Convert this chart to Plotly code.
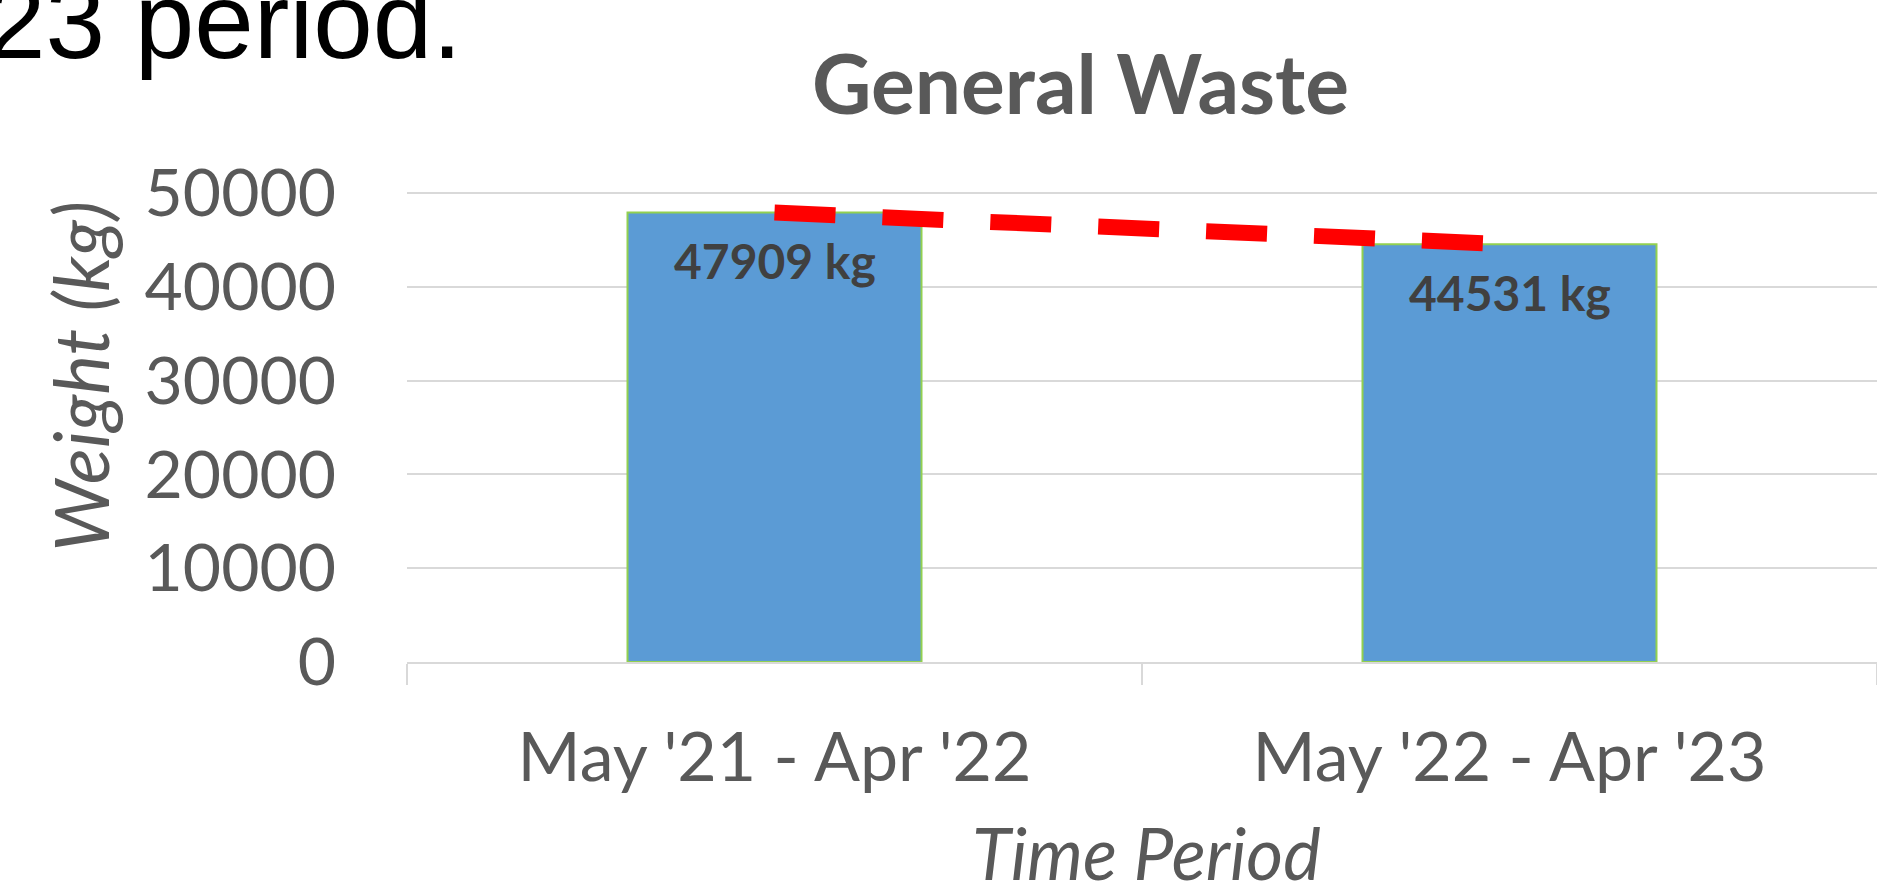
import plotly.graph_objects as go

# ---- data ----
periods = ["May '21 - Apr '22", "May '22 - Apr '23"]
weights = [47909, 44531]
label_unit = "kg"
title_text = "General Waste"
x_title = "Time Period"
y_title = "Weight (kg)"
y_ticks = [0, 10000, 20000, 30000, 40000, 50000]
corner_text = "23 period."

W, H = 1877, 891
L, R, T, B = 407, 0, 190, 229
PW = W - L - R
PH = H - T - B
# top of axis range a few pixels above the 50000 gridline so the grid line is drawn
Y_MAX = 50000 * PH / (PH - 3)


def px_x(px):
    return (px - L) / PW


def px_y(py):
    return (H - B - py) / PH


GRAY = "#595959"
FONT = "Lato"

fig = go.Figure()
fig.add_trace(go.Bar(
    x=periods, y=weights, width=0.4,
    marker=dict(color="#5B9BD5", line=dict(color="#92D050", width=2)),
    hoverinfo="skip", showlegend=False,
))
fig.add_trace(go.Scatter(
    x=periods, y=weights, mode="lines",
    line=dict(color="#FF0000", width=16, dash="61px,47px"),
    hoverinfo="skip", showlegend=False,
))

annotations = []
for p, v in zip(periods, weights):
    annotations.append(dict(
        x=p, y=v, xref="x", yref="y", text=f"<b>{v} {label_unit}</b>",
        showarrow=False, yanchor="middle", xanchor="center", yshift=-48,
        font=dict(family=FONT, size=48, color="#404040"),
    ))

annotations.append(dict(
    x=px_x(1080), y=px_y(82), xref="paper", yref="paper",
    text=f"<b>{title_text}</b>", showarrow=False,
    xanchor="center", yanchor="middle",
    font=dict(family=FONT, size=82, color=GRAY),
))
annotations.append(dict(
    x=px_x(1146), y=px_y(852), xref="paper", yref="paper",
    text=f"<i>{x_title}</i>", showarrow=False,
    xanchor="center", yanchor="middle",
    font=dict(family=FONT, size=71, color=GRAY),
))
annotations.append(dict(
    x=px_x(80), y=px_y(377), xref="paper", yref="paper",
    text=f"<i>{y_title}</i>", showarrow=False, textangle=-90,
    xanchor="center", yanchor="middle",
    font=dict(family=FONT, size=75, color=GRAY),
))
annotations.append(dict(
    x=px_x(-16), y=px_y(21), xref="paper", yref="paper",
    text=corner_text, showarrow=False,
    xanchor="left", yanchor="middle",
    font=dict(family="Liberation Sans", size=107, color="#000000"),
))

fig.update_layout(
    width=W, height=H, autosize=False,
    margin=dict(l=L, r=R, t=T, b=B, pad=0),
    paper_bgcolor="white", plot_bgcolor="white",
    annotations=annotations,
    xaxis=dict(
        type="category", categoryorder="array", categoryarray=periods,
        range=[-0.5, 1.5], automargin=False,
        showline=True, linecolor="#D9D9D9", linewidth=2,
        ticks="outside", tickson="boundaries", ticklen=21,
        tickcolor="#D9D9D9", tickwidth=2,
        showgrid=False, zeroline=False,
        tickfont=dict(family=FONT, size=68, color=GRAY),
        ticklabelstandoff=35,
    ),
    yaxis=dict(
        range=[0, Y_MAX], automargin=False,
        tickmode="array", tickvals=y_ticks,
        ticktext=[str(t) for t in y_ticks],
        showgrid=True, gridcolor="#D9D9D9", gridwidth=2,
        zeroline=False, showline=False, ticks="",
        tickfont=dict(family=FONT, size=66, color=GRAY),
        ticklabelstandoff=70,
    ),
)

fig.write_html(
    "out.html",
    config={"displayModeBar": False},
    post_script="document.body.style.margin='0px';document.body.style.overflow='hidden';",
)
